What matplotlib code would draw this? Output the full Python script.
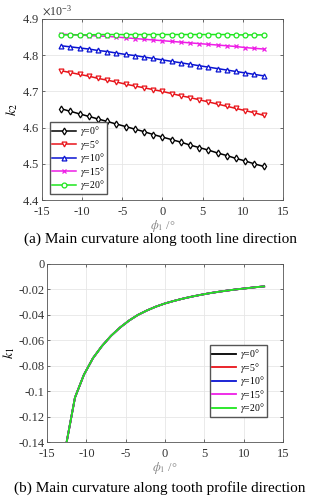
import matplotlib
matplotlib.use('Agg')
import matplotlib.pyplot as plt
from matplotlib.ticker import ScalarFormatter

plt.rcParams['font.family'] = ['Liberation Serif', 'DejaVu Serif']
plt.rcParams['mathtext.fontset'] = 'stix'

phi = [-12.6, -11.45, -10.31, -9.16, -8.02, -6.87, -5.73, -4.58, -3.44, -2.29, -1.15, 0.0,
       1.15, 2.29, 3.44, 4.58, 5.73, 6.87, 8.02, 9.16, 10.31, 11.45, 12.6]

gammas = ['0', '5', '10', '15', '20']

# k2 values (x1e-3)
k2_g0 = [4.652, 4.645, 4.638, 4.631, 4.624, 4.617, 4.610, 4.603, 4.596, 4.589, 4.581, 4.574,
         4.567, 4.560, 4.552, 4.545, 4.538, 4.530, 4.523, 4.515, 4.508, 4.500, 4.493]
k2_g5 = [4.757, 4.752, 4.747, 4.742, 4.736, 4.731, 4.726, 4.720, 4.715, 4.710, 4.705, 4.700,
         4.694, 4.688, 4.683, 4.677, 4.671, 4.665, 4.659, 4.653, 4.647, 4.641, 4.634]
k2_g10 = [4.826, 4.823, 4.820, 4.817, 4.813, 4.810, 4.806, 4.802, 4.799, 4.795, 4.791, 4.787,
          4.783, 4.779, 4.775, 4.771, 4.767, 4.763, 4.759, 4.755, 4.751, 4.747, 4.743]
k2_g15 = [4.858, 4.857, 4.856, 4.854, 4.853, 4.852, 4.850, 4.848, 4.846, 4.844, 4.842, 4.840,
          4.838, 4.836, 4.834, 4.832, 4.830, 4.828, 4.826, 4.824, 4.821, 4.819, 4.817]
k2_g20 = [4.856, 4.856, 4.856, 4.856, 4.857, 4.857, 4.857, 4.857, 4.857, 4.857, 4.857, 4.857,
          4.857, 4.857, 4.857, 4.857, 4.857, 4.857, 4.857, 4.856, 4.856, 4.856, 4.856]

# k1 values (curves for all gamma coincide)
k1 = [-0.143, -0.105, -0.087, -0.074, -0.0645, -0.0565, -0.0500, -0.0445, -0.0400, -0.0365,
      -0.0335, -0.0310, -0.0290, -0.0272, -0.0256, -0.0242, -0.0229, -0.0218, -0.0208,
      -0.0199, -0.0191, -0.0183, -0.0176]

k2_all = [k2_g0, k2_g5, k2_g10, k2_g15, k2_g20]
colors = ['black', '#e8141a', '#0a14d2', '#ee1ee6', '#1ee61e']
markers = ['d', 'v', '^', 'x', 'o']

fig = plt.figure(figsize=(3.2, 4.99), dpi=100)

def style(ax):
    ax.grid(True, color='#e6e6e6', linewidth=0.6)
    ax.set_axisbelow(True)
    for s in ax.spines.values():
        s.set_color('#555555')
        s.set_linewidth(0.6)
    ax.tick_params(direction='in', length=2.5, width=0.5, labelsize=9, colors='#333333',
                   top=True, right=True, pad=2)
    ax.tick_params(axis='x', pad=4)
    ax.set_xlim(-15, 15)
    ax.set_xticks([-15, -10, -5, 0, 5, 10, 15])
    ax.set_xticklabels(['-15', '-10', '-5', '0', '5', '10', '15'])

leg_kw = dict(fontsize=7, handlelength=2.5, borderpad=0.2, labelspacing=-0.05,
              handletextpad=0.4, fancybox=False, framealpha=1, edgecolor='#555555',
              borderaxespad=0)

# top
ax1 = fig.add_axes([0.131, 0.599, 0.753, 0.363])
style(ax1)
for g, vals, c, m in zip(gammas, k2_all, colors, markers):
    ax1.plot(phi, [v * 1e-3 for v in vals], color=c, marker=m, markersize=3.5,
             markerfacecolor='white' if m != 'x' else c, markeredgewidth=0.9,
             linewidth=1.1, label=r'$\gamma$=' + g + '°')
ax1.set_ylim(4.4e-3, 4.9e-3)
ax1.set_yticks([4.4e-3, 4.5e-3, 4.6e-3, 4.7e-3, 4.8e-3, 4.9e-3])
fmt = ScalarFormatter(useMathText=True)
fmt.set_powerlimits((-2, 2))
ax1.yaxis.set_major_formatter(fmt)
ax1.yaxis.get_offset_text().set_fontsize(8.5)
ax1.yaxis.get_offset_text().set_color('#333333')
ax1.set_ylabel(r'$k_2$', fontsize=10, labelpad=1)
ax1.set_xlabel(r'$\phi_1$ /°', fontsize=9, color='#888888', labelpad=0)
ax1.legend(loc='lower left', bbox_to_anchor=(0.033, 0.033), **leg_kw)
fig.text(0.5, 1 - 239 / 499, '(a) Main curvature along tooth line direction',
         ha='center', va='center', fontsize=11)

# bottom
ax2 = fig.add_axes([0.147, 0.114, 0.7375, 0.357])
style(ax2)
for g, c in zip(gammas, colors):
    ax2.plot(phi, k1, color=c, linewidth=1.3, label=r'$\gamma$=' + g + '°')
ax2.set_ylim(-0.14, 0)
ax2.set_yticks([-0.14, -0.12, -0.1, -0.08, -0.06, -0.04, -0.02, 0])
ax2.set_yticklabels(['-0.14', '-0.12', '-0.1', '-0.08', '-0.06', '-0.04', '-0.02', '0'])
ax2.set_ylabel(r'$k_1$', fontsize=10, labelpad=1)
ax2.set_xlabel(r'$\phi_1$ /°', fontsize=9, color='#888888', labelpad=0)
ax2.legend(loc='lower right', bbox_to_anchor=(0.932, 0.14), **leg_kw)
fig.text(0.5, 1 - 488 / 499, '(b) Main curvature along tooth profile direction',
         ha='center', va='center', fontsize=11)

fig.savefig('out.png', dpi=100)
